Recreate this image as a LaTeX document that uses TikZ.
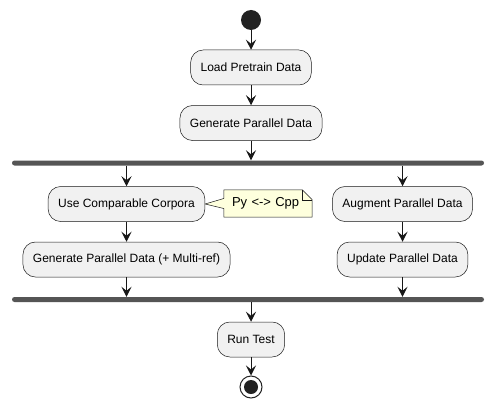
\documentclass[tikz,border=0pt]{standalone}
\usepackage{fontspec}
\setmainfont{Liberation Sans}
\usetikzlibrary{arrows.meta,calc}
\definecolor{boxfill}{HTML}{F1F1F1}
\definecolor{lineclr}{HTML}{181818}
\definecolor{barclr}{HTML}{555555}
\definecolor{notefill}{HTML}{FEFFDD}
\definecolor{startclr}{HTML}{222222}
\pgfdeclarelayer{background}
\pgfsetlayers{background,main}
\begin{document}
\begin{tikzpicture}[x=1pt,y=1pt,
 act/.style={draw=lineclr, fill=boxfill, line width=0.5pt, rounded corners=12.5pt,
   minimum height=35pt, inner xsep=10pt, font=\fontsize{12}{14}\selectfont},
 forkbar/.style={fill=barclr, draw=none, rounded corners=2.5pt, minimum width=472pt,
   minimum height=5pt, inner sep=0pt},
 arr/.style={draw=lineclr, line width=1pt, -{Stealth[length=10pt,width=10pt,inset=4pt]}},
 notebox/.style={font=\fontsize{13}{15}\selectfont, text width=72pt, align=left,
   inner xsep=8pt, inner ysep=0pt, minimum height=27pt},
 noteshape/.style={draw=lineclr, fill=notefill, line width=0.5pt, line join=miter},
]
\useasboundingbox (0,0) rectangle (494,-409);
\begin{pgfonlayer}{background}
\fill[white] (0,0) rectangle (494,-409);
\end{pgfonlayer}

\node[circle, fill=startclr, minimum size=20pt, inner sep=0pt] (start) at (251,-20) {};
\node[act] (load) at (251,-67.5) {Load Pretrain Data};
\node[act] (gen) at (251,-123) {Generate Parallel Data};
\node[forkbar] (fork) at (248,-163) {};
\node[act] (ucc) at (126.5,-204) {Use Comparable Corpora};
\node[act] (gpm) at (126.5,-259.5) {Generate Parallel Data (+ Multi-ref)};
\node[act] (apd) at (402.5,-204) {Augment Parallel Data};
\node[act] (upd) at (402.5,-259.5) {Update Parallel Data};
\node[forkbar] (join) at (248,-299.5) {};
\node[act] (run) at (251,-339.5) {Run Test};
\node[circle, draw=startclr, line width=1pt, fill=white, minimum size=22pt, inner sep=0pt] (stop) at (251,-387) {};
\node[circle, fill=startclr, minimum size=14pt, inner sep=0pt] (stopdot) at (stop.center) {};

\node[notebox] (note) at (268,-203.5) {Py <-> Cpp};
\begin{pgfonlayer}{background}
\draw[noteshape] (note.north west) -- ($(note.north east)+(-10,0)$) -- ($(note.north east)+(0,-10)$)
  -- (note.south east) -- (note.south west) -- ($(note.west)+(0,-5)$) -- (ucc.east)
  -- ($(note.west)+(0,5)$) -- cycle;
\draw[draw=lineclr, line width=0.5pt] ($(note.north east)+(-10,0)$) -- ($(note.north east)+(-10,-10)$)
  -- ($(note.north east)+(0,-10)$);
\end{pgfonlayer}

\draw[arr] (start) -- (load);
\draw[arr] (load) -- (gen);
\draw[arr] (gen) -- (gen.south |- fork.north);
\draw[arr] (fork.south -| ucc) -- (ucc);
\draw[arr] (ucc) -- (gpm);
\draw[arr] (gpm) -- (gpm.south |- join.north);
\draw[arr] (fork.south -| apd) -- (apd);
\draw[arr] (apd) -- (upd);
\draw[arr] (upd) -- (upd.south |- join.north);
\draw[arr] (join.south -| run) -- (run);
\draw[arr] (run) -- (stop);
\end{tikzpicture}
\end{document}
